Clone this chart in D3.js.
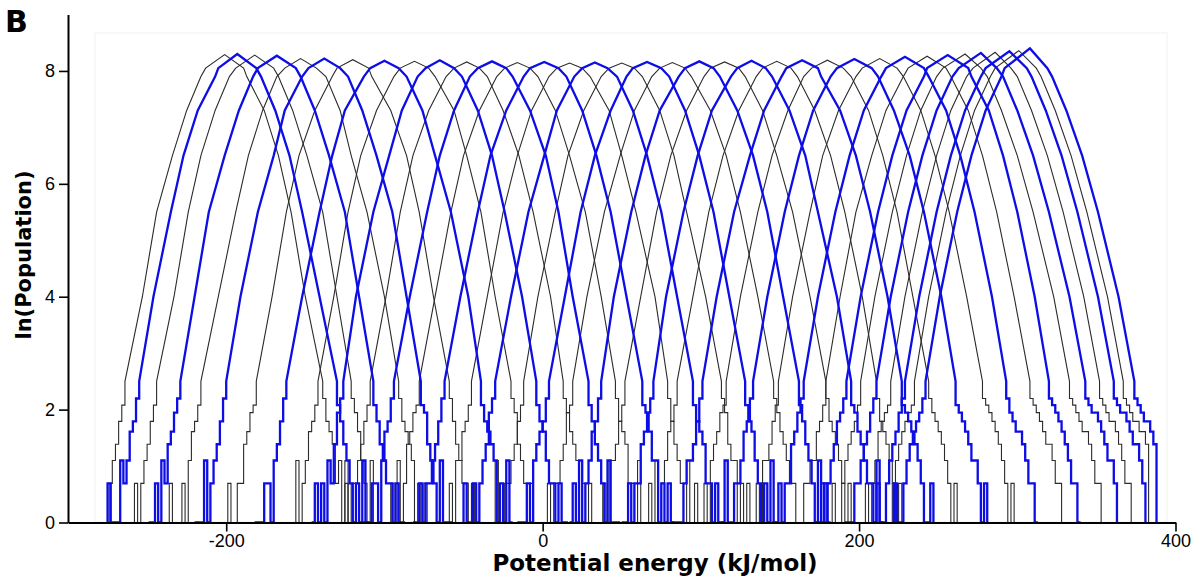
<!DOCTYPE html>
<html>
<head>
<meta charset="utf-8">
<script src="https://cdn.jsdelivr.net/npm/d3@7"></script>
<style>
  body { margin: 0; background: #fff; }
  svg { display: block; }
</style>
</head>
<body>
<svg id="chart" width="1195" height="577"></svg>
<script>
// ln(population) levels at which each histogram side position is recorded
const levels = [2.5, 4, 5.5, 6.5, 7.3, 7.9, 8.05];

// Replica histograms, ordered by increasing mean potential energy (kJ/mol)
const peakEnergy = [-201, -193, -182, -168, -153, -138, -120, -100, -81, -65, -48, -32,
  -16, 1, 17, 33, 50, 66, 82, 99, 115, 132, 148, 164, 180, 197, 213, 229, 243, 256,
  267, 277, 286, 295, 301, 308];

const peakLnPop = [8.29, 8.30, 8.28, 8.27, 8.22, 8.22, 8.20, 8.18, 8.17, 8.19, 8.16, 8.17,
  8.15, 8.16, 8.14, 8.15, 8.14, 8.16, 8.15, 8.17, 8.16, 8.18, 8.17, 8.19, 8.19, 8.21,
  8.22, 8.25, 8.26, 8.28, 8.30, 8.32, 8.33, 8.35, 8.36, 8.40];

// Energy where the low-energy side crosses each level
const leftEdge = [
  [-264, -253, -244, -234, -225, -216, -213],
  [-255, -246, -235, -227, -218, -207, -205],
  [-244, -233, -224, -216, -207, -198, -194],
  [-229, -220, -211, -201, -192, -183, -180],
  [-216, -205, -194, -186, -177, -168, -163],
  [-200, -191, -180, -170, -163, -152, -148],
  [-181, -171, -162, -154, -144, -133, -130],
  [-162, -152, -141, -133, -125, -113, -109],
  [-142, -132, -123, -115, -105, -94, -90],
  [-126, -118, -107, -97, -89, -79, -74],
  [-109, -99, -90, -82, -72, -61, -56],
  [-94, -84, -73, -65, -56, -46, -41],
  [-78, -68, -58, -50, -40, -29, -24],
  [-62, -52, -41, -33, -23, -12, -8],
  [-45, -35, -25, -16, -7, 4, 9],
  [-30, -20, -9, 1, 9, 20, 25],
  [-12, -3, 8, 16, 26, 37, 42],
  [4, 14, 24, 33, 43, 53, 57],
  [19, 28, 39, 49, 58, 69, 74],
  [37, 45, 56, 65, 74, 86, 90],
  [52, 62, 72, 81, 91, 102, 106],
  [70, 78, 89, 98, 107, 119, 123],
  [85, 95, 105, 114, 124, 135, 139],
  [101, 110, 121, 131, 140, 151, 154],
  [116, 125, 136, 145, 155, 165, 170],
  [133, 142, 153, 162, 171, 182, 186],
  [149, 158, 169, 177, 187, 198, 202],
  [165, 174, 185, 194, 203, 214, 217],
  [179, 188, 198, 208, 217, 228, 231],
  [192, 201, 212, 221, 230, 241, 243],
  [201, 210, 221, 230, 239, 249, 253],
  [211, 220, 231, 240, 249, 259, 263],
  [220, 229, 240, 249, 258, 268, 272],
  [229, 238, 249, 258, 267, 277, 280],
  [235, 244, 255, 264, 273, 283, 286],
  [242, 251, 262, 271, 280, 290, 292]
];

// Energy where the high-energy side crosses each level
const rightEdge = [
  [-139, -150, -159, -167, -176, -187, -189],
  [-130, -141, -152, -160, -169, -178, -181],
  [-121, -130, -139, -149, -158, -167, -170],
  [-107, -116, -125, -135, -144, -153, -156],
  [-91, -100, -111, -121, -128, -137, -143],
  [-77, -86, -95, -105, -114, -123, -128],
  [-59, -69, -78, -86, -96, -108, -110],
  [-39, -47, -58, -68, -76, -86, -91],
  [-20, -30, -39, -48, -56, -68, -72],
  [-4, -13, -24, -32, -41, -51, -56],
  [13, 5, -6, -15, -25, -35, -40],
  [29, 19, 10, 2, -8, -19, -23],
  [46, 37, 27, 17, 8, -3, -8],
  [63, 53, 43, 34, 25, 15, 10],
  [79, 71, 59, 50, 42, 30, 25],
  [95, 85, 75, 66, 57, 47, 41],
  [113, 103, 91, 83, 74, 63, 58],
  [128, 118, 108, 99, 90, 80, 75],
  [146, 136, 125, 116, 106, 94, 90],
  [162, 152, 142, 133, 123, 112, 108],
  [179, 169, 158, 148, 139, 128, 124],
  [195, 186, 174, 166, 156, 145, 141],
  [211, 202, 191, 182, 172, 161, 157],
  [227, 218, 207, 198, 188, 176, 174],
  [244, 234, 224, 215, 206, 195, 190],
  [261, 252, 241, 232, 222, 212, 208],
  [278, 268, 257, 248, 239, 228, 224],
  [293, 284, 273, 264, 255, 244, 241],
  [308, 298, 287, 278, 269, 258, 255],
  [320, 311, 300, 291, 282, 271, 269],
  [333, 323, 310, 300, 290, 281, 277],
  [343, 333, 320, 310, 300, 291, 287],
  [352, 342, 329, 319, 309, 300, 296],
  [361, 351, 338, 328, 318, 309, 306],
  [367, 357, 344, 334, 324, 315, 312],
  [374, 364, 351, 341, 331, 322, 319]
];

// Counts per 2 kJ/mol bin, read outward from the ln = 2.5 crossing
const tailBin = 2;
const leftTail = ["864321", "9653230102", "8643212010", "9754231201", "8653120102",
  "9643213010", "8754221020", "9643122101", "8653213010", "9742312020", "8643221301",
  "9653122010", "8754213020", "9643221201", "8653312010", "9743212102", "8643221030",
  "9654312010", "8743221201", "9653213020", "8643312010", "9754221201", "8653213020",
  "9643321010", "8754312102", "9653221030", "8643312010", "9754221201", "8653322010",
  "9764321201", "8654321020", "9754322010", "8765321201", "9754321020", "8765432101",
  "9765432102"];
const rightTail = ["9654231201", "8643212030", "9753213010", "8643221201", "9654312020",
  "8743213010", "9643221201", "8654312030", "9743212010", "8653221201", "9754312020",
  "8643213010", "9654221301", "8753312020", "9643213010", "8654221201", "9743312020",
  "8653212030", "9754322101", "8643213020", "9654321201", "8754322030", "9654321201",
  "8765432102", "9765432120", "8765433212", "9876543212", "9765543221", "9876544322",
  "9876543221", "9876554322", "9877654332", "9876654322", "9877654432", "98766554",
  "9876654"];

const xTicks = [-200, 0, 200, 400];
const yTicks = [0, 2, 4, 6, 8];

const svg = d3.select("#chart");
const x = d3.scaleLinear().domain([-300, 400]).range([68, 1175.5]);
const y = d3.scaleLinear().domain([0, 9]).range([522.5, 14.5]);

// faint frame of the plotting area
svg.append("rect")
  .attr("x", 95).attr("y", 33).attr("width", 1072).attr("height", 489)
  .attr("fill", "none").attr("stroke", "#f1f1f1").attr("stroke-width", 1);

const lnCount = c => {
  const n = parseInt(c, 36);
  return n <= 1 ? 0 : Math.log(n);
};

function histogramPoints(i) {
  const pts = [];
  const lStart = leftEdge[i][0];
  const lt = leftTail[i].split("");
  pts.push([lStart - tailBin * lt.length, 0]);
  for (let k = lt.length - 1; k >= 0; k--) {
    const v = lnCount(lt[k]);
    pts.push([lStart - tailBin * (k + 1), v], [lStart - tailBin * k, v]);
  }
  levels.forEach((lv, j) => pts.push([leftEdge[i][j], lv]));
  pts.push([peakEnergy[i], peakLnPop[i]]);
  for (let j = levels.length - 1; j >= 0; j--) pts.push([rightEdge[i][j], levels[j]]);
  const rStart = rightEdge[i][0];
  const rt = rightTail[i].split("");
  for (let k = 0; k < rt.length; k++) {
    const v = lnCount(rt[k]);
    pts.push([rStart + tailBin * k, v], [rStart + tailBin * (k + 1), v]);
  }
  pts.push([rStart + tailBin * rt.length, 0]);
  return pts;
}

const line = d3.line().x(d => x(d[0])).y(d => y(d[1]));
const idx = d3.range(peakEnergy.length);
const curves = svg.append("g").attr("fill", "none");

// even replicas in black, odd replicas in blue (blue drawn on top)
curves.selectAll("path.black")
  .data(idx.filter(i => i % 2 === 0))
  .join("path")
  .attr("class", "black")
  .attr("d", i => line(histogramPoints(i)))
  .attr("stroke", "#2b2b2b")
  .attr("stroke-width", 1.1);

curves.selectAll("path.blue")
  .data(idx.filter(i => i % 2 === 1))
  .join("path")
  .attr("class", "blue")
  .attr("d", i => line(histogramPoints(i)))
  .attr("stroke", "#0d0de6")
  .attr("stroke-width", 2.3);

// axes
const fmt = d => String(d);
const xAxis = svg.append("g")
  .attr("transform", `translate(0,${y(0)})`)
  .call(d3.axisBottom(x).tickValues(xTicks).tickFormat(fmt).tickSize(9).tickSizeOuter(0).tickPadding(3));
const yAxis = svg.append("g")
  .attr("transform", `translate(${x(-300)},0)`)
  .call(d3.axisLeft(y).tickValues(yTicks).tickFormat(fmt).tickSize(9).tickSizeOuter(0).tickPadding(4));

[xAxis, yAxis].forEach(g => {
  g.select(".domain").attr("stroke", "#000").attr("stroke-width", 2);
  g.selectAll(".tick line").attr("stroke", "#000").attr("stroke-width", 1.6);
  g.selectAll(".tick text")
    .attr("fill", "#000")
    .style("font-family", "'Liberation Sans', Arial, sans-serif")
    .style("font-size", "18px");
});

// axis titles and panel letter
svg.append("text")
  .attr("x", 655).attr("y", 571)
  .attr("text-anchor", "middle")
  .style("font-family", "'DejaVu Sans', sans-serif")
  .style("font-weight", "bold")
  .style("font-size", "23px")
  .text("Potential energy (kJ/mol)");

svg.append("text")
  .attr("transform", "translate(31,255) rotate(-90)")
  .attr("text-anchor", "middle")
  .style("font-family", "'DejaVu Sans', sans-serif")
  .style("font-weight", "bold")
  .style("font-size", "21px")
  .text("ln(Population)");

svg.append("text")
  .attr("x", 5).attr("y", 32)
  .style("font-family", "'DejaVu Sans', sans-serif")
  .style("font-weight", "bold")
  .style("font-size", "30px")
  .text("B");
</script>
</body>
</html>
